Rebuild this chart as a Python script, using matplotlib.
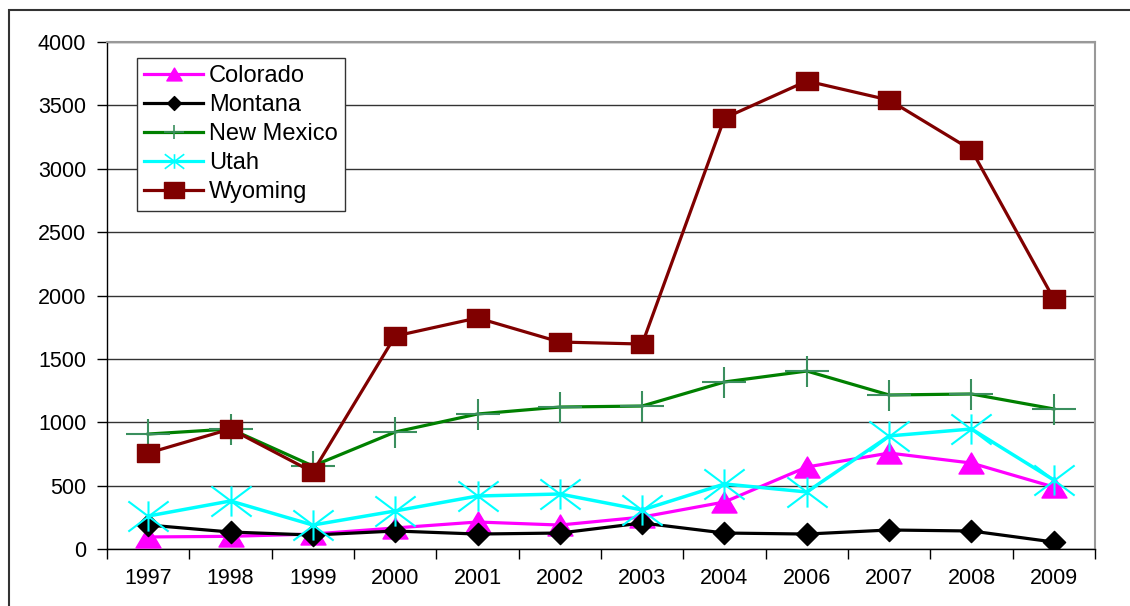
import matplotlib
matplotlib.use("Agg")
import matplotlib.pyplot as plt
from matplotlib.path import Path
from matplotlib.lines import Line2D
from matplotlib.patches import Rectangle
import numpy as np

years = ["1997", "1998", "1999", "2000", "2001", "2002", "2003", "2004", "2006", "2007", "2008", "2009"]
colorado = [95, 100, 118, 166, 213, 189, 252, 371, 647, 757, 678, 489]
montana = [189, 134, 110, 142, 118, 126, 205, 126, 118, 150, 142, 55]
new_mexico = [907, 947, 655, 923, 1065, 1120, 1128, 1318, 1404, 1215, 1223, 1105]
utah = [260, 379, 189, 300, 418, 434, 308, 513, 450, 892, 947, 544]
wyoming = [757, 947, 607, 1680, 1823, 1633, 1617, 3400, 3692, 3542, 3148, 1972]

plt.rcParams['font.family'] = ['Liberation Sans', 'DejaVu Sans']

# custom (horizontally wide) markers
M, L = Path.MOVETO, Path.LINETO
star = Path([(0, -0.75), (0, 0.75), (-1, -0.75), (1, 0.75), (-1, 0.75), (1, -0.75)],
            [M, L, M, L, M, L])
plus = Path([(-1, 0), (1, 0), (0, -0.72), (0, 0.72)], [M, L, M, L])
square = Path([(-1, -0.77), (1, -0.77), (1, 0.77), (-1, 0.77), (-1, -0.77)],
              [M, L, L, L, Path.CLOSEPOLY])
tri = Path([(0, 0.84), (-1, -0.84), (1, -0.84), (0, 0.84)], [M, L, L, Path.CLOSEPOLY])
diamond = Path([(0, 1), (1, 0), (0, -1), (-1, 0), (0, 1)], [M, L, L, L, Path.CLOSEPOLY])

fig = plt.figure(figsize=(11.3, 6.06), dpi=100)
ax = fig.add_axes([107 / 1130, 1 - 549 / 606, (1095 - 107) / 1130, (549 - 42) / 606])

x = np.arange(len(years))
ax.plot(x, new_mexico, color='#008000', lw=2.3, marker=plus, ms=31, mec='#3a8f5e', mew=1.5, zorder=3)
ax.plot(x, colorado, color='#ff00ff', lw=2.3, marker=tri, ms=18, mfc='#ff00ff', mec='#ff00ff', zorder=4)
ax.plot(x, montana, color='#000000', lw=2.3, marker=diamond, ms=16, mfc='black', mec='black', zorder=5)
ax.plot(x, utah, color='#00ffff', lw=2.5, marker=star, ms=29, mfc='none', mec='#00ffff', mew=1.5, zorder=6)
ax.plot(x, wyoming, color='#800000', lw=2.3, marker=square, ms=16, mfc='#800000', mec='#800000', zorder=7)

ax.set_xlim(-0.5, len(years) - 0.5)
ax.set_ylim(0, 4000)
ax.set_yticks(np.arange(0, 4001, 500))
ax.set_xticks(x)
ax.set_xticklabels(years)
ax.set_xticks(np.arange(-0.5, len(years)), minor=True)
ax.tick_params(axis='x', which='major', length=0, pad=14, labelsize=15.5)
ax.tick_params(axis='x', which='minor', length=7, width=1, color='black', direction='out')
ax.tick_params(axis='y', length=7, width=1, direction='out', pad=8, labelsize=15.5)
ax.grid(axis='y', color='#333333', lw=1)
ax.set_axisbelow(True)
for s in ['top', 'right']:
    ax.spines[s].set_color('#999999')
    ax.spines[s].set_linewidth(1.5)
for s in ['left', 'bottom']:
    ax.spines[s].set_color('black')
    ax.spines[s].set_linewidth(1)

handles = [
    Line2D([], [], color='#ff00ff', lw=2.3, marker=tri, ms=11, mfc='#ff00ff', mec='#ff00ff'),
    Line2D([], [], color='black', lw=2.3, marker=diamond, ms=10, mfc='black', mec='black'),
    Line2D([], [], color='#008000', lw=2.3, marker=plus, ms=14, mec='#3a8f5e', mew=1.2),
    Line2D([], [], color='#00ffff', lw=2.3, marker=star, ms=14, mfc='none', mec='#00ffff', mew=1.2),
    Line2D([], [], color='#800000', lw=2.3, marker=square, ms=15, mfc='#800000', mec='#800000'),
]
labels = ["Colorado", "Montana", "New Mexico", "Utah", "Wyoming"]
leg = ax.legend(handles, labels, loc='upper left', bbox_to_anchor=((137 - 107) / 988, (549 - 58) / 507),
                frameon=True, fancybox=False, edgecolor='#333333', framealpha=1,
                fontsize=17, handlelength=2.5, handletextpad=0.25, labelspacing=0.3,
                borderpad=0.3, borderaxespad=0)
leg.get_frame().set_linewidth(1)

# outer chart frame
fig.patches.append(Rectangle((9 / 1130, -0.05), 1.1, 1 - 10 / 606 + 0.05, transform=fig.transFigure,
                             fill=False, edgecolor='#333333', lw=1.5, zorder=0))

fig.savefig('out.png', dpi=100)
